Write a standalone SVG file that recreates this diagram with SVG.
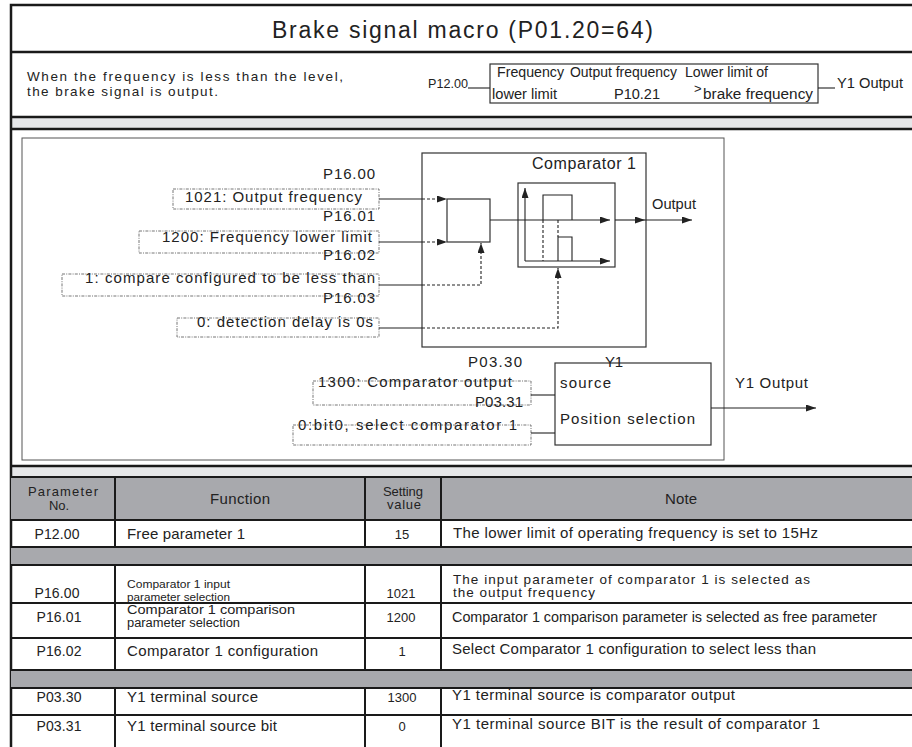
<svg xmlns="http://www.w3.org/2000/svg" width="912" height="747" viewBox="0 0 912 747">
<defs>
<marker id="ah" markerWidth="11" markerHeight="8" refX="10" refY="3.5" orient="auto" markerUnits="userSpaceOnUse"><path d="M0,0 L10,3.5 L0,7 z" fill="#222"/></marker>
<style>
text{font-family:"Liberation Sans",Arial,sans-serif;fill:#222}
.t15{font-size:15px}
.t14{font-size:14px}
.t13{font-size:13px}
.t12{font-size:12px}
.thick{stroke:#1a1a1a;stroke-width:2.5;fill:none}
.ln{stroke:#222;stroke-width:1.1;fill:none}
.dl{stroke:#222;stroke-width:1.1;fill:none;stroke-dasharray:3,2}
.db{stroke:#666;stroke-width:0.9;fill:none;stroke-dasharray:3,1.2,1,1.2}
.box{stroke:#333;stroke-width:1.2;fill:none}
.mid{text-anchor:middle}
</style>
</defs>
<rect width="912" height="747" fill="#fff"/>

<g id="frame">
<rect x="11" y="117" width="901" height="12" fill="#e6e7e9"/>
<rect x="11" y="466" width="901" height="11" fill="#e6e7e9"/>
<path class="thick" d="M912,5 H11 V747"/>
<path class="thick" d="M11,52 H912 M11,117 H912 M11,129 H912 M11,466 H912"/>
<rect x="22" y="138" width="702" height="322" fill="none" stroke="#555" stroke-width="1"/>
</g>

<g id="title">
<text x="272" y="38" font-size="23" textLength="381" lengthAdjust="spacing">Brake signal macro (P01.20=64)</text>
</g>

<g id="description">
<text x="27" y="81" font-size="13.5" textLength="316" lengthAdjust="spacing">When the frequency is less than the level,</text>
<text x="27" y="95.5" font-size="13.5" textLength="191" lengthAdjust="spacing">the brake signal is output.</text>
</g>

<g id="formula">
<text class="t13" x="428" y="88" textLength="40" lengthAdjust="spacingAndGlyphs">P12.00</text>
<line class="ln" x1="468" y1="88" x2="490" y2="88"/>
<rect class="box" x="490" y="64" width="328" height="39"/>
<text class="t14" x="497" y="77" textLength="67" lengthAdjust="spacingAndGlyphs">Frequency</text>
<text class="t14" x="570" y="77" textLength="107" lengthAdjust="spacingAndGlyphs">Output frequency</text>
<text class="t14" x="685" y="77" textLength="83" lengthAdjust="spacingAndGlyphs">Lower limit of</text>
<text class="t14" x="492" y="99" textLength="65" lengthAdjust="spacingAndGlyphs">lower limit</text>
<text class="t14" x="614" y="99" textLength="46" lengthAdjust="spacingAndGlyphs">P10.21</text>
<text class="t13" x="694" y="93">&gt;</text>
<text class="t14" x="703" y="99" textLength="110" lengthAdjust="spacingAndGlyphs">brake frequency</text>
<line class="ln" x1="818" y1="88" x2="835" y2="88"/>
<text class="t14" x="837" y="88" textLength="66" lengthAdjust="spacingAndGlyphs">Y1 Output</text>
</g>

<g id="param-p1600">
<text class="t15" x="323" y="179" textLength="52" lengthAdjust="spacing">P16.00</text>
<rect class="db" x="173" y="189" width="206" height="20"/>
<text class="t15" x="185" y="202" textLength="177" lengthAdjust="spacing">1021: Output frequency</text>
</g>
<g id="param-p1601">
<text class="t15" x="323" y="221" textLength="52" lengthAdjust="spacing">P16.01</text>
<rect class="db" x="139" y="231" width="240" height="22"/>
<text class="t15" x="162" y="242" textLength="210" lengthAdjust="spacing">1200: Frequency lower limit</text>
</g>
<g id="param-p1602">
<text class="t15" x="323" y="260" textLength="52" lengthAdjust="spacing">P16.02</text>
<rect class="db" x="62" y="274" width="317" height="22"/>
<text class="t15" x="85" y="283" textLength="290" lengthAdjust="spacing">1: compare configured to be less than</text>
</g>
<g id="param-p1603">
<text class="t15" x="323" y="303" textLength="52" lengthAdjust="spacing">P16.03</text>
<rect class="db" x="177" y="318" width="202" height="19"/>
<text class="t15" x="197" y="327" textLength="176" lengthAdjust="spacing">0: detection delay is 0s</text>
</g>

<g id="comparator1">
<rect class="box" x="422" y="153" width="224" height="194"/>
<text x="532" y="169" font-size="16" textLength="104" lengthAdjust="spacing">Comparator 1</text>
<rect class="box" x="447" y="199" width="43" height="43"/>
<rect class="box" x="518" y="183" width="97" height="84"/>
<line class="ln" x1="525" y1="261" x2="525" y2="188" marker-end="url(#ah)"/>
<line class="ln" x1="525" y1="261" x2="610" y2="261" marker-end="url(#ah)"/>
<path class="ln" d="M543,220 V195 H572 V220"/>
<path class="ln" d="M558,261 V237 H572 V261"/>
<line class="dl" x1="543" y1="220" x2="543" y2="261"/>
<line class="dl" x1="558" y1="220" x2="558" y2="237"/>
<text x="652" y="209" font-size="14.5" textLength="44" lengthAdjust="spacingAndGlyphs">Output</text>
</g>

<g id="y1-source">
<text class="t15" x="468" y="367" textLength="54" lengthAdjust="spacing">P03.30</text>
<rect class="db" x="313" y="381" width="218" height="24"/>
<text class="t15" x="318" y="387" textLength="194" lengthAdjust="spacing">1300: Comparator output</text>
<text class="t15" x="475" y="407" textLength="48" lengthAdjust="spacing">P03.31</text>
<rect class="db" x="293" y="425" width="238" height="20"/>
<text class="t15" x="298" y="429.5" textLength="219" lengthAdjust="spacing">0:bit0,  select comparator 1</text>
</g>

<g id="y1-box">
<rect class="box" x="555" y="363" width="156" height="82"/>
<text class="t15" x="605" y="367" textLength="18" lengthAdjust="spacing">Y1</text>
<text class="t15" x="560" y="388" textLength="51" lengthAdjust="spacing">source</text>
<text class="t15" x="560" y="424" textLength="135" lengthAdjust="spacing">Position selection</text>
<text class="t15" x="735" y="388" textLength="73" lengthAdjust="spacing">Y1 Output</text>
</g>

<g id="connectors">
<line class="ln" x1="379" y1="199" x2="422" y2="199"/>
<line class="dl" x1="422" y1="199" x2="447" y2="199" marker-end="url(#ah)"/>
<line class="ln" x1="379" y1="242" x2="422" y2="242"/>
<line class="dl" x1="422" y1="242" x2="447" y2="242" marker-end="url(#ah)"/>
<line class="ln" x1="379" y1="285" x2="422" y2="285"/>
<path class="dl" d="M422,285 H481 V243" marker-end="url(#ah)"/>
<line class="ln" x1="379" y1="328" x2="422" y2="328"/>
<path class="dl" d="M422,328 H558 V268" marker-end="url(#ah)"/>
<line class="ln" x1="490" y1="220" x2="610" y2="220" marker-end="url(#ah)"/>
<line class="ln" x1="615" y1="220" x2="645" y2="220" marker-end="url(#ah)"/>
<line class="ln" x1="645" y1="220" x2="692" y2="220" marker-end="url(#ah)"/>
<line class="ln" x1="531" y1="395" x2="555" y2="395"/>
<line class="ln" x1="531" y1="433" x2="555" y2="433"/>
<line class="ln" x1="711" y1="408" x2="816" y2="408" marker-end="url(#ah)"/>
</g>

<g id="table">
<rect x="11" y="477" width="901" height="43" fill="#a8a9ad"/>
<rect x="11" y="547" width="901" height="18" fill="#a8a9ad"/>
<rect x="11" y="670" width="901" height="18" fill="#a8a9ad"/>
<path stroke="#1a1a1a" stroke-width="2" fill="none" d="M11,477 H912 M11,520 H912 M11,547 H912 M11,565 H912 M11,603 H912 M11,638 H912 M11,670 H912 M11,688 H912 M11,715 H912"/>
<path stroke="#1a1a1a" stroke-width="2" fill="none" d="M115,477 V547 M365,477 V547 M441,477 V547 M115,565 V670 M365,565 V670 M441,565 V670 M115,688 V747 M365,688 V747 M441,688 V747"/>
<text class="t13 mid" x="63" y="496" textLength="70" lengthAdjust="spacing">Parameter</text>
<text class="t13 mid" x="59" y="510">No.</text>
<text class="t15 mid" x="240" y="504" textLength="60" lengthAdjust="spacing">Function</text>
<text class="t13 mid" x="403" y="495.5" textLength="40" lengthAdjust="spacing">Setting</text>
<text class="t13 mid" x="404" y="509" textLength="34" lengthAdjust="spacing">value</text>
<text class="t15 mid" x="681" y="504" textLength="32" lengthAdjust="spacing">Note</text>

<text class="t14 mid" x="57" y="539" textLength="45" lengthAdjust="spacing">P12.00</text>
<text class="t15" x="127" y="539" textLength="118" lengthAdjust="spacing">Free parameter 1</text>
<text class="t13 mid" x="402" y="539">15</text>
<text class="t15" x="453" y="538" textLength="365" lengthAdjust="spacing">The lower limit of operating frequency is set to 15Hz</text>

<text class="t14 mid" x="57" y="598" textLength="45" lengthAdjust="spacing">P16.00</text>
<text x="127" y="588" font-size="11.5" textLength="103" lengthAdjust="spacingAndGlyphs">Comparator 1 input</text>
<text x="127" y="600.5" font-size="11.5" textLength="103" lengthAdjust="spacingAndGlyphs">parameter selection</text>
<text class="t13 mid" x="401" y="598">1021</text>
<text x="453" y="583.5" font-size="13.5" textLength="357" lengthAdjust="spacing">The input parameter of comparator 1 is selected as</text>
<text x="453" y="597" font-size="13.5" textLength="142" lengthAdjust="spacing">the output frequency</text>

<text class="t14 mid" x="59" y="622" textLength="45" lengthAdjust="spacing">P16.01</text>
<text x="127" y="613.5" font-size="12.5" textLength="168" lengthAdjust="spacingAndGlyphs">Comparator 1 comparison</text>
<text x="127" y="627" font-size="12.5" textLength="113" lengthAdjust="spacingAndGlyphs">parameter selection</text>
<text class="t13 mid" x="401" y="622">1200</text>
<text class="t14" x="452" y="622" textLength="425" lengthAdjust="spacingAndGlyphs">Comparator 1 comparison parameter is selected as free parameter</text>

<text class="t14 mid" x="59" y="656" textLength="45" lengthAdjust="spacing">P16.02</text>
<text class="t15" x="127" y="656" textLength="191" lengthAdjust="spacing">Comparator 1 configuration</text>
<text class="t13 mid" x="402" y="656">1</text>
<text class="t15" x="452" y="654" textLength="364" lengthAdjust="spacing">Select Comparator 1 configuration to select less than</text>

<text class="t14 mid" x="59" y="702" textLength="45" lengthAdjust="spacing">P03.30</text>
<text class="t15" x="127" y="702" textLength="131" lengthAdjust="spacing">Y1 terminal source</text>
<text class="t13 mid" x="402" y="702">1300</text>
<text class="t15" x="452" y="700" textLength="283" lengthAdjust="spacing">Y1 terminal source is comparator output</text>

<text class="t14 mid" x="59" y="731" textLength="45" lengthAdjust="spacing">P03.31</text>
<text class="t15" x="127" y="731" textLength="150" lengthAdjust="spacing">Y1 terminal source bit</text>
<text class="t13 mid" x="402" y="731">0</text>
<text class="t15" x="452" y="729" textLength="368" lengthAdjust="spacing">Y1 terminal source BIT is the result of comparator 1</text>
</g>
</svg>
